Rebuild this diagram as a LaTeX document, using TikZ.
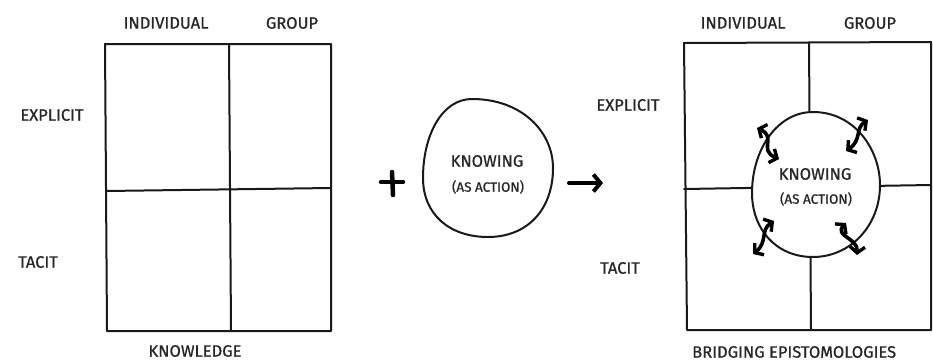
\documentclass[tikz,border=0pt]{standalone}
\usepackage{fontspec}
\setmainfont{Fira Sans}
\newfontfamily\handfont[FakeBold=0.8]{Fira Sans}
\usetikzlibrary{arrows.meta}
\begin{document}
\begin{tikzpicture}[x=1pt,y=-1pt,
  sketch/.style={line width=2pt,line cap=round,line join=round,draw=black!90},
  lbl/.style={font=\handfont\fontsize{16.5}{18}\selectfont,inner sep=0pt,text=black!85},
  small/.style={font=\handfont\fontsize{13.5}{15}\selectfont,inner sep=0pt,text=black!85},
  dbl/.style={line width=3.6pt,line cap=round,{Straight Barb[length=6pt,width=15pt,line width=3.4pt]}-{Straight Barb[length=6pt,width=15pt,line width=3.4pt]}}]
\useasboundingbox (0,0) rectangle (933,362);
% ---------- left grid ----------
\draw[sketch] (105,44) -- (331,44) -- (331,331) -- (107,331) -- cycle;
\draw[sketch] (229,44) -- (231,331);
\draw[sketch] (106,191) -- (331,188);
\node[lbl] (lind) at (166,23) {INDIVIDUAL};
\node[lbl] (lgrp) at (292,23) {GROUP};
\node[lbl] (lexp) at (52,115) {EXPLICIT};
\node[lbl] (ltac) at (38,262) {TACIT};
\node[lbl] (lknow) at (195,351) {KNOWLEDGE};
% ---------- plus ----------
\draw[line width=4.5pt,line cap=round] (381,182) -- (403,182);
\draw[line width=4.5pt,line cap=round] (392,172) -- (393,195);
% ---------- middle egg ----------
\draw[sketch] (472,99) .. controls (522,99) and (553,132) .. (553,168)
  .. controls (553,210) and (527,237) .. (488,237)
  .. controls (449,237) and (423,214) .. (423,178)
  .. controls (423,135) and (442,99) .. (472,99);
\node[lbl] (mk) at (487,161) {KNOWING};
\node[small] (ma) at (488,187) {(AS ACTION)};
% ---------- arrow ----------
\coordinate (a1) at (569,183);
\coordinate (a2) at (603,183);
\draw[line width=4pt,line cap=round,-{Straight Barb[length=7pt,width=17pt,line width=4pt]}] (a1) -- (a2);
% ---------- right grid ----------
\draw[sketch] (684,43) -- (931,42) -- (931,330) -- (687,330) -- cycle;
\draw[sketch] (809,43) -- (811,330);
\draw[sketch] (684,189) -- (931,185);
\draw[sketch,fill=white] (813,112) .. controls (855,112) and (880,150) .. (880,185)
  .. controls (880,226) and (850,257) .. (813,257)
  .. controls (775,257) and (752,228) .. (752,193)
  .. controls (752,150) and (777,112) .. (813,112);
\node[lbl] (rind) at (743,23) {INDIVIDUAL};
\node[lbl] (rgrp) at (870,23) {GROUP};
\node[lbl] (rexp) at (628,105) {EXPLICIT};
\node[lbl] (rtac) at (620,268) {TACIT};
\node[lbl] (rk) at (815,174) {KNOWING};
\node[small] (ra) at (816,199) {(AS ACTION)};
\node[lbl,anchor=west] (rbr) at (692,352) {BRIDGING EPISTOMOLOGIES};
% ---------- small double arrows ----------
\draw[dbl] (757,128) .. controls (777,137) and (758,150) .. (779,159);
\draw[dbl] (868,120) .. controls (855,128) and (862,140) .. (846,151);
\draw[dbl] (774,221) .. controls (760,230) and (768,242) .. (753,254);
\draw[dbl] (846,223) .. controls (834,236) and (858,238) .. (857,255);
\end{tikzpicture}
\end{document}
